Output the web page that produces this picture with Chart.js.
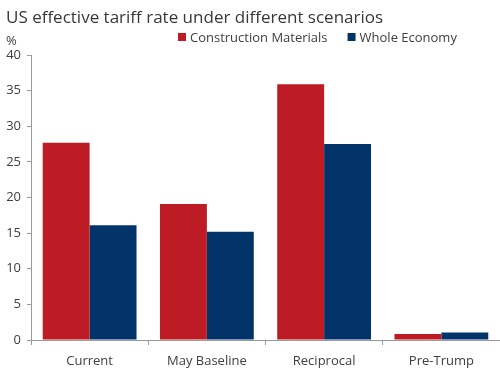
<!DOCTYPE html>
<html>
<head>
<meta charset="utf-8">
<script src="https://cdn.jsdelivr.net/npm/chart.js@4"></script>
<style>
  html, body { margin: 0; padding: 0; background: #fff; }
  #wrap { width: 500px; height: 392px; }
</style>
</head>
<body>
<div id="wrap"><canvas id="tariffChart"></canvas></div>
<script>
// data
const scenarios = ['Current', 'May Baseline', 'Reciprocal', 'Pre-Trump'];
const constructionMaterials = [27.7, 19.1, 35.9, 0.85];
const wholeEconomy = [16.1, 15.2, 27.5, 1.05];
const yTicks = [0, 5, 10, 15, 20, 25, 30, 35, 40];

const FONT = '"Open Sans", "Noto Sans", sans-serif';
const TEXT = '#404040';
const AXIS = '#9a9a9a';

// title, legend and unit label drawn by hand so they sit where the reference has them
const headerPlugin = {
    id: 'header',
    afterDraw(chart) {
        const ctx = chart.ctx;
        ctx.save();
        ctx.textBaseline = 'alphabetic';
        ctx.fillStyle = '#383838';
        ctx.font = '17px ' + FONT;
        ctx.fillText('US effective tariff rate under different scenarios', 6, 23);

        ctx.fillStyle = TEXT;
        ctx.font = '13px ' + FONT;
        ctx.fillText('%', 6, 45);

        const sets = chart.data.datasets;
        let x = 178;
        sets.forEach((ds) => {
            ctx.fillStyle = ds.backgroundColor;
            ctx.fillRect(x, 33, 8, 8);
            ctx.fillStyle = TEXT;
            ctx.fillText(ds.label, x + 12, 42);
            x += 12 + ctx.measureText(ds.label).width + 20;
        });
        ctx.restore();
    }
};

new Chart(document.getElementById('tariffChart'), {
    type: 'bar',
    data: {
        labels: scenarios,
        datasets: [{
            label: 'Construction Materials',
            data: constructionMaterials,
            backgroundColor: '#BE1C24',
            categoryPercentage: 0.8,
            barPercentage: 1.0
        }, {
            label: 'Whole Economy',
            data: wholeEconomy,
            backgroundColor: '#02346A',
            categoryPercentage: 0.8,
            barPercentage: 1.0
        }]
    },
    options: {
        responsive: true,
        maintainAspectRatio: false,
        animation: false,
        layout: { padding: { top: 55, right: 0, bottom: 0, left: 0 } },
        plugins: {
            legend: { display: false },
            title: { display: false },
            tooltip: { enabled: false }
        },
        scales: {
            x: {
                afterFit: (scale) => { scale.height = 52; },
                border: { color: AXIS, width: 1 },
                grid: { offset: true, drawOnChartArea: false, color: AXIS, tickLength: 5 },
                ticks: { color: TEXT, font: { family: FONT, size: 13 }, padding: 8 }
            },
            y: {
                min: 0,
                max: 40,
                afterFit: (scale) => { scale.width = 31; },
                afterBuildTicks: (scale) => { scale.ticks = yTicks.map(v => ({ value: v })); },
                border: { color: AXIS, width: 1 },
                grid: { drawOnChartArea: false, color: AXIS, tickLength: 4 },
                ticks: { color: TEXT, font: { family: FONT, size: 13 }, padding: 6 }
            }
        }
    },
    plugins: [headerPlugin]
});
</script>
</body>
</html>
